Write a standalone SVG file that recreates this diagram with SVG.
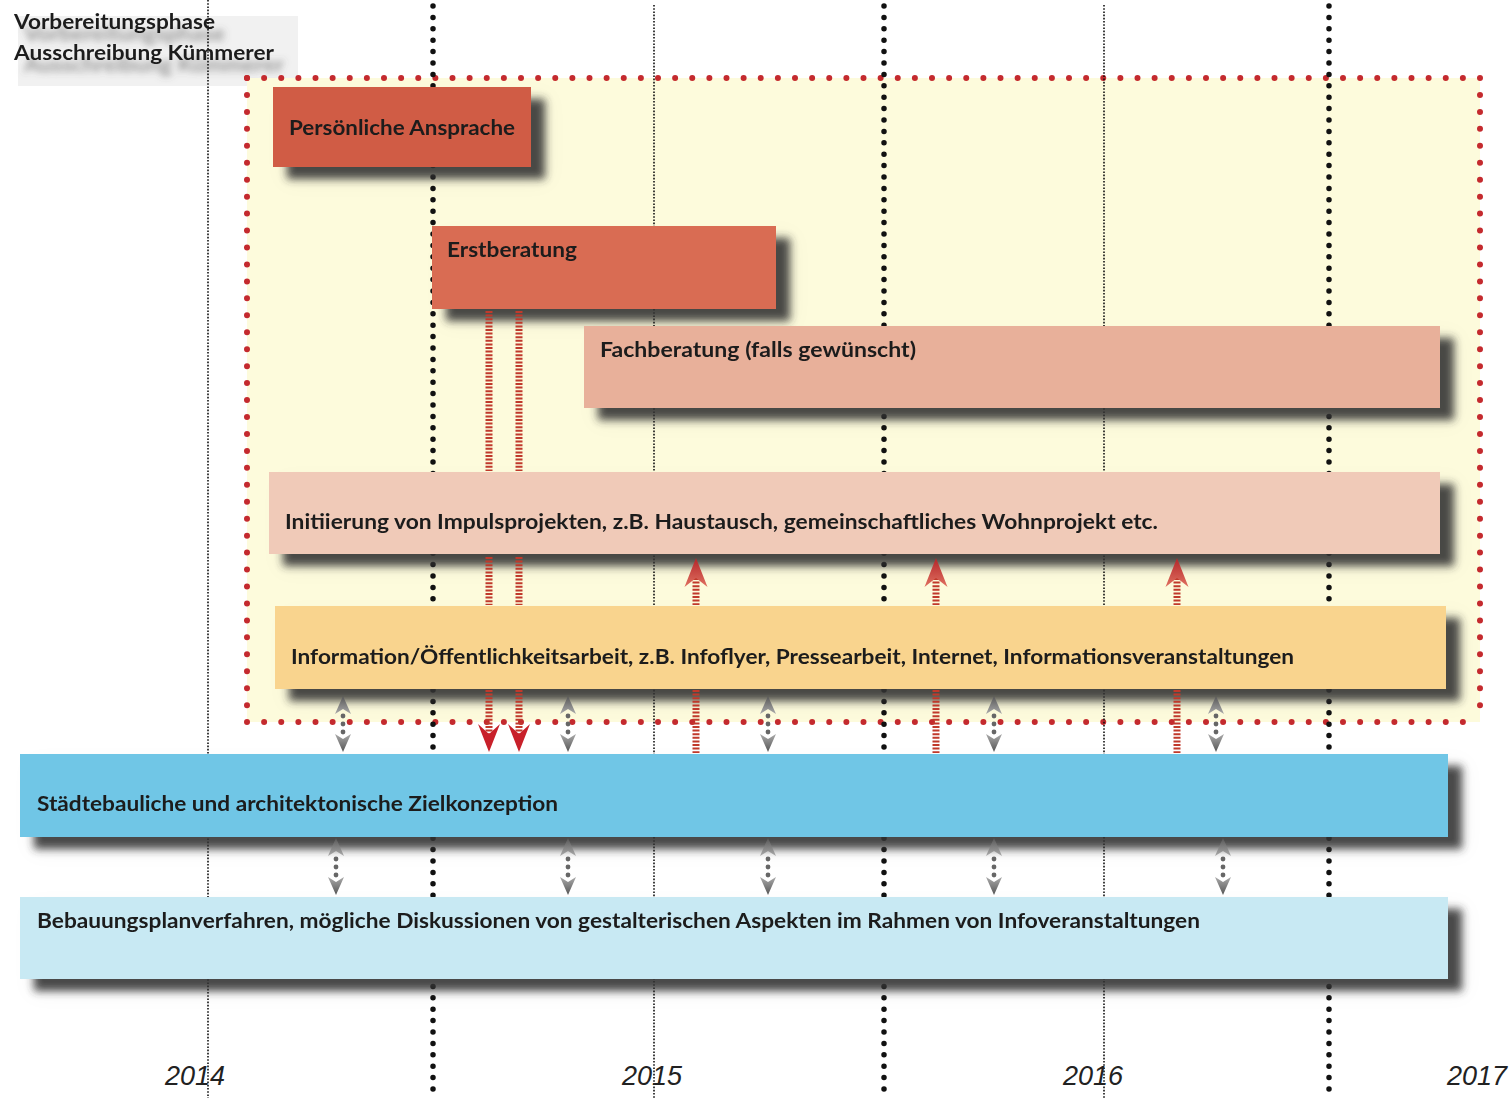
<svg xmlns="http://www.w3.org/2000/svg" width="1512" height="1098" viewBox="0 0 1512 1098">
<defs>
<style>
.lbl{font-family:"Lato","Open Sans","Liberation Sans",sans-serif;font-weight:700;font-size:20px;fill:#1c1c1c}
.yr{font-family:"Liberation Sans",Arial,sans-serif;font-style:italic;font-size:27px;fill:#222}
.thin{stroke:#111;stroke-width:1.6;stroke-dasharray:1.6 1.6;fill:none}
.thick{stroke:#111;stroke-width:5.5;stroke-linecap:round;stroke-dasharray:0 11.4;fill:none}
.reddot{stroke:#c42a2e;stroke-width:6;stroke-linecap:round;fill:none}
.stripe{stroke:#c0392b;stroke-width:7;stroke-dasharray:2 1.6;fill:none}
.gdot{fill:#666}
</style>
<filter id="sh" x="-10%" y="-40%" width="125%" height="190%">
<feGaussianBlur in="SourceAlpha" stdDeviation="10" result="b1"/>
<feOffset in="b1" dx="14" dy="12" result="o1"/>
<feFlood flood-color="#000" flood-opacity="0.07"/>
<feComposite in2="o1" operator="in" result="halo"/>
<feGaussianBlur in="SourceAlpha" stdDeviation="4" result="b2"/>
<feOffset in="b2" dx="14" dy="12" result="o2"/>
<feFlood flood-color="#333" flood-opacity="0.88"/>
<feComposite in2="o2" operator="in" result="s"/>
<feMerge><feMergeNode in="halo"/><feMergeNode in="s"/><feMergeNode in="SourceGraphic"/></feMerge>
</filter>
<filter id="tsh" x="-10%" y="-40%" width="130%" height="200%">
<feDropShadow dx="10" dy="12" stdDeviation="3.5" flood-color="#555" flood-opacity="0.6"/>
</filter>
<linearGradient id="gup" x1="0" y1="0" x2="0" y2="1">
<stop offset="0" stop-color="#555"/><stop offset="1" stop-color="#aaa"/>
</linearGradient>
<linearGradient id="gdn" x1="0" y1="1" x2="0" y2="0">
<stop offset="0" stop-color="#555"/><stop offset="1" stop-color="#aaa"/>
</linearGradient>
<linearGradient id="rup" x1="0" y1="0" x2="0" y2="1">
<stop offset="0" stop-color="#b3262a"/><stop offset="1" stop-color="#e07060"/>
</linearGradient>
<path id="gu" d="M0,0 L8,18 L0,13 L-8,18 Z" fill="url(#gup)"/>
<path id="gd" d="M0,0 L8,-18 L0,-13 L-8,-18 Z" fill="url(#gdn)"/>
<path id="ru" d="M0,0 L11.5,29 L0,20 L-11.5,29 Z" fill="url(#rup)"/>
<path id="rd" d="M0,0 L11,-28 L0,-18 L-11,-28 Z" fill="#c8202a"/>
</defs>
<rect width="1512" height="1098" fill="#fff"/>

<g id="header">
<rect x="18" y="16" width="280" height="70" fill="#f1f1f1"/>
<g filter="url(#tsh)">
<text class="lbl" x="14" y="29" textLength="201" lengthAdjust="spacingAndGlyphs">Vorbereitungsphase</text>
<text class="lbl" x="14" y="60" textLength="260" lengthAdjust="spacingAndGlyphs">Ausschreibung Kümmerer</text>
</g>
</g>

<g id="phase-area">
<rect x="247" y="78" width="1233" height="644" fill="#fdfbdc"/>
<line class="reddot" x1="247" y1="78" x2="1480" y2="78" stroke-dasharray="0 17.125"/>
<line class="reddot" x1="247" y1="722" x2="1480" y2="722" stroke-dasharray="0 17.125"/>
<line class="reddot" x1="247" y1="78" x2="247" y2="722" stroke-dasharray="0 16.95"/>
<line class="reddot" x1="1480" y1="78" x2="1480" y2="722" stroke-dasharray="0 16.95"/>
</g>

<g id="grid">
<line class="thin" x1="208" y1="0" x2="208" y2="1098"/>
<line class="thin" x1="654" y1="5" x2="654" y2="1098"/>
<line class="thin" x1="1104" y1="5" x2="1104" y2="1098"/>
<line class="thick" x1="433" y1="6" x2="433" y2="1094"/>
<line class="thick" x1="884" y1="6" x2="884" y2="1094"/>
<line class="thick" x1="1329" y1="6" x2="1329" y2="1094"/>
</g>

<g id="years">
<text class="yr" x="165" y="1085">2014</text>
<text class="yr" x="622" y="1085">2015</text>
<text class="yr" x="1063" y="1085">2016</text>
<text class="yr" x="1447" y="1085">2017</text>
</g>

<g id="n-persoenliche" filter="url(#sh)">
<rect x="273" y="87" width="258" height="80" fill="#d05c45"/>
<text class="lbl" x="289" y="135" textLength="226" lengthAdjust="spacingAndGlyphs">Persönliche Ansprache</text>
</g>
<g id="n-erstberatung" filter="url(#sh)">
<rect x="432" y="226" width="344" height="83" fill="#d96c53"/>
<text class="lbl" x="447" y="257" textLength="130" lengthAdjust="spacingAndGlyphs">Erstberatung</text>
</g>
<g id="n-fachberatung" filter="url(#sh)">
<rect x="584" y="326" width="856" height="82" fill="#e8b09a"/>
<text class="lbl" x="600" y="357" textLength="316" lengthAdjust="spacingAndGlyphs">Fachberatung (falls gewünscht)</text>
</g>
<g id="n-initiierung" filter="url(#sh)">
<rect x="269" y="472" width="1171" height="82" fill="#f0cab8"/>
<text class="lbl" x="285" y="529" textLength="873" lengthAdjust="spacingAndGlyphs">Initiierung von Impulsprojekten, z.B. Haustausch, gemeinschaftliches Wohnprojekt etc.</text>
</g>
<g id="n-information" filter="url(#sh)">
<rect x="275" y="606" width="1171" height="83" fill="#f9d48e"/>
<text class="lbl" x="291" y="664" textLength="1003" lengthAdjust="spacingAndGlyphs">Information/Öffentlichkeitsarbeit, z.B. Infoflyer, Pressearbeit, Internet, Informationsveranstaltungen</text>
</g>
<g id="n-staedtebau" filter="url(#sh)">
<rect x="20" y="754" width="1428" height="83" fill="#6fc6e6"/>
<text class="lbl" x="37" y="811" textLength="521" lengthAdjust="spacingAndGlyphs">Städtebauliche und architektonische Zielkonzeption</text>
</g>
<g id="n-bebauungsplan" filter="url(#sh)">
<rect x="20" y="897" width="1428" height="82" fill="#c8e9f3"/>
<text class="lbl" x="37" y="928" textLength="1163" lengthAdjust="spacingAndGlyphs">Bebauungsplanverfahren, mögliche Diskussionen von gestalterischen Aspekten im Rahmen von Infoveranstaltungen</text>
</g>

<g id="connectors">
<g>
<line class="stripe" x1="489" y1="311" x2="489" y2="471"/>
<line class="stripe" x1="489" y1="557" x2="489" y2="605"/>
<line class="stripe" x1="489" y1="690" x2="489" y2="734"/>
<use href="#rd" x="489" y="752"/>
<line class="stripe" x1="519" y1="311" x2="519" y2="471"/>
<line class="stripe" x1="519" y1="557" x2="519" y2="605"/>
<line class="stripe" x1="519" y1="690" x2="519" y2="734"/>
<use href="#rd" x="519" y="752"/>
</g>
<g>
<line class="stripe" x1="696" y1="578" x2="696" y2="605"/>
<line class="stripe" x1="696" y1="690" x2="696" y2="753"/>
<use href="#ru" x="696" y="558"/>
<line class="stripe" x1="936" y1="578" x2="936" y2="605"/>
<line class="stripe" x1="936" y1="690" x2="936" y2="753"/>
<use href="#ru" x="936" y="558"/>
<line class="stripe" x1="1177" y1="578" x2="1177" y2="605"/>
<line class="stripe" x1="1177" y1="690" x2="1177" y2="753"/>
<use href="#ru" x="1177" y="558"/>
</g>
<g>
<use href="#gu" x="343" y="696"/><circle class="gdot" cx="343" cy="716" r="2.4"/><circle class="gdot" cx="343" cy="724" r="2.4"/><circle class="gdot" cx="343" cy="732" r="2.4"/><use href="#gd" x="343" y="752"/>
<use href="#gu" x="568" y="696"/><circle class="gdot" cx="568" cy="716" r="2.4"/><circle class="gdot" cx="568" cy="724" r="2.4"/><circle class="gdot" cx="568" cy="732" r="2.4"/><use href="#gd" x="568" y="752"/>
<use href="#gu" x="768" y="696"/><circle class="gdot" cx="768" cy="716" r="2.4"/><circle class="gdot" cx="768" cy="724" r="2.4"/><circle class="gdot" cx="768" cy="732" r="2.4"/><use href="#gd" x="768" y="752"/>
<use href="#gu" x="994" y="696"/><circle class="gdot" cx="994" cy="716" r="2.4"/><circle class="gdot" cx="994" cy="724" r="2.4"/><circle class="gdot" cx="994" cy="732" r="2.4"/><use href="#gd" x="994" y="752"/>
<use href="#gu" x="1216" y="696"/><circle class="gdot" cx="1216" cy="716" r="2.4"/><circle class="gdot" cx="1216" cy="724" r="2.4"/><circle class="gdot" cx="1216" cy="732" r="2.4"/><use href="#gd" x="1216" y="752"/>
</g>
<g>
<use href="#gu" x="336" y="838"/><circle class="gdot" cx="336" cy="859" r="2.4"/><circle class="gdot" cx="336" cy="867" r="2.4"/><circle class="gdot" cx="336" cy="875" r="2.4"/><use href="#gd" x="336" y="895"/>
<use href="#gu" x="568" y="838"/><circle class="gdot" cx="568" cy="859" r="2.4"/><circle class="gdot" cx="568" cy="867" r="2.4"/><circle class="gdot" cx="568" cy="875" r="2.4"/><use href="#gd" x="568" y="895"/>
<use href="#gu" x="768" y="838"/><circle class="gdot" cx="768" cy="859" r="2.4"/><circle class="gdot" cx="768" cy="867" r="2.4"/><circle class="gdot" cx="768" cy="875" r="2.4"/><use href="#gd" x="768" y="895"/>
<use href="#gu" x="994" y="838"/><circle class="gdot" cx="994" cy="859" r="2.4"/><circle class="gdot" cx="994" cy="867" r="2.4"/><circle class="gdot" cx="994" cy="875" r="2.4"/><use href="#gd" x="994" y="895"/>
<use href="#gu" x="1223" y="838"/><circle class="gdot" cx="1223" cy="859" r="2.4"/><circle class="gdot" cx="1223" cy="867" r="2.4"/><circle class="gdot" cx="1223" cy="875" r="2.4"/><use href="#gd" x="1223" y="895"/>
</g>
</g>
</svg>
